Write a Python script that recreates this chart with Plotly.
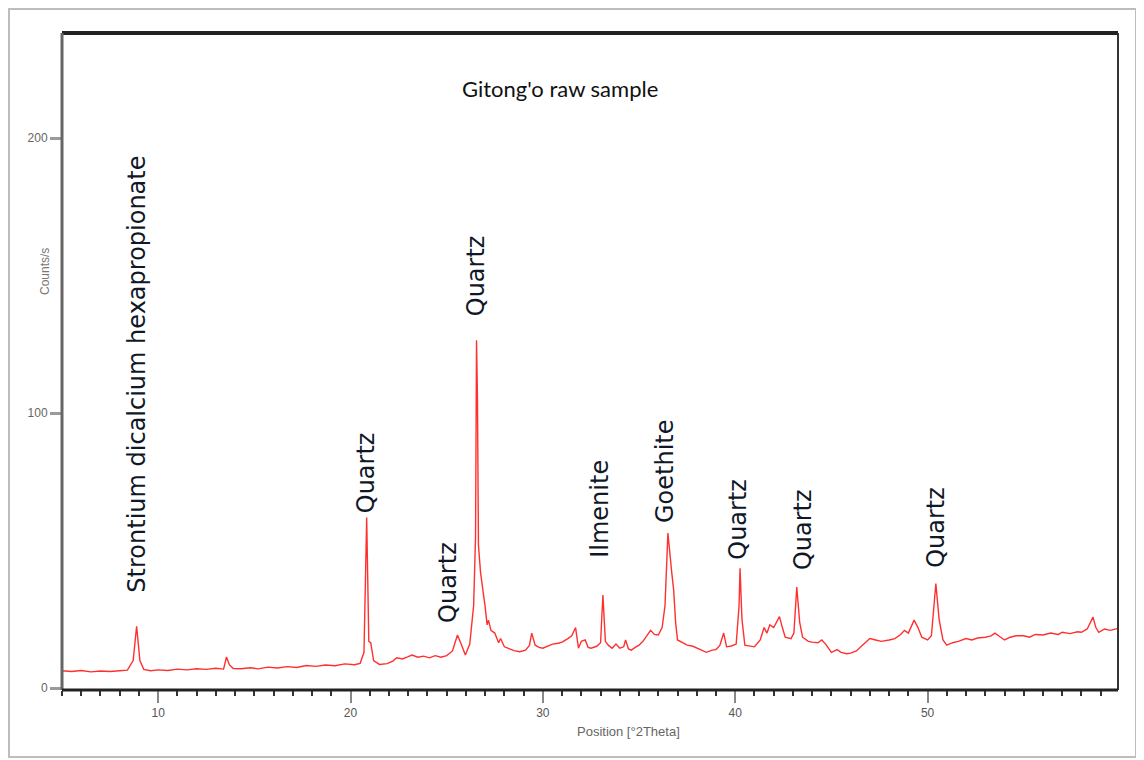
import plotly.graph_objects as go

# XRD pattern: position (°2Theta) and intensity (counts/s)
two_theta = [5.0, 5.5, 6.0, 6.5, 7.0, 7.5, 8.0, 8.4, 8.7, 8.88, 9.05, 9.25, 9.6, 10.0, 10.5, 11.0, 11.5,
             12.0, 12.5, 13.0, 13.4, 13.55, 13.7, 13.9, 14.3, 14.8, 15.2, 15.7, 16.2, 16.7, 17.2, 17.7,
             18.2, 18.7, 19.2, 19.7, 20.2, 20.5, 20.7, 20.84, 20.95, 21.05, 21.2, 21.5, 21.9, 22.2, 22.4,
             22.7, 23.0, 23.2, 23.5, 23.8, 24.1, 24.4, 24.7, 25.0, 25.3, 25.56, 25.75, 25.97, 26.2, 26.4,
             26.5, 26.55, 26.6, 26.65, 26.76, 26.9, 27.0, 27.1, 27.17, 27.3, 27.5, 27.7, 27.8, 28.0, 28.3,
             28.5, 28.8, 29.1, 29.3, 29.42, 29.6, 29.8, 30.0, 30.3, 30.5, 30.8, 31.0, 31.3, 31.5, 31.7,
             31.85, 32.0, 32.2, 32.35, 32.5, 32.8, 33.0, 33.12, 33.25, 33.4, 33.6, 33.8, 34.0, 34.2, 34.3,
             34.45, 34.6, 34.8, 35.0, 35.2, 35.3, 35.5, 35.6, 35.8, 36.0, 36.2, 36.35, 36.5, 36.6, 36.7,
             36.8, 36.9, 37.0, 37.3, 37.5, 37.8, 38.0, 38.3, 38.5, 38.8, 39.0, 39.2, 39.4, 39.55, 39.8,
             40.05, 40.2, 40.25, 40.35, 40.5, 40.8, 41.0, 41.3, 41.5, 41.65, 41.8, 42.0, 42.3, 42.45, 42.6,
             42.9, 43.05, 43.2, 43.35, 43.5, 43.8, 44.0, 44.3, 44.5, 44.7, 45.0, 45.3, 45.5, 45.8, 46.0,
             46.3, 46.6, 47.0, 47.3, 47.6, 48.0, 48.3, 48.6, 48.8, 49.0, 49.3, 49.5, 49.7, 50.0, 50.2,
             50.43, 50.6, 50.8, 51.0, 51.3, 51.6, 52.0, 52.3, 52.6, 53.0, 53.3, 53.5, 53.8, 54.0, 54.3,
             54.6, 55.0, 55.3, 55.6, 56.0, 56.4, 56.8, 57.0, 57.4, 57.8, 58.0, 58.3, 58.6, 58.75, 58.9,
             59.2, 59.5, 59.8, 60.0]
counts = [6.3, 6.0, 6.4, 5.9, 6.2, 6.0, 6.3, 6.5, 10.0, 22.5, 10.0, 6.8, 6.3, 6.6, 6.4, 6.9, 6.6,
          7.0, 6.8, 7.2, 6.9, 11.3, 8.5, 7.1, 7.0, 7.4, 7.0, 7.6, 7.3, 7.8, 7.5, 8.2,
          7.9, 8.4, 8.1, 8.8, 8.5, 9.0, 13.0, 62.0, 17.0, 16.5, 10.0, 8.6, 8.9, 9.8, 11.0,
          10.6, 11.4, 12.0, 11.2, 11.6, 11.0, 11.8, 11.2, 11.8, 13.5, 19.3, 16.0, 12.0, 16.0, 30.0,
          55.0, 126.5, 105.0, 52.0, 42.0, 35.0, 29.5, 23.0, 24.7, 21.0, 20.0, 16.5, 18.0, 15.0, 14.0,
          13.6, 13.2, 13.8, 15.5, 20.0, 15.6, 14.8, 14.5, 15.4, 16.0, 16.3, 16.7, 18.0, 19.0, 22.0,
          14.5, 17.0, 17.5, 14.8, 14.5, 15.2, 16.5, 33.8, 17.0, 15.6, 14.5, 16.0, 14.5, 15.0, 17.5,
          14.2, 13.8, 14.8, 15.6, 17.0, 18.0, 20.0, 21.0, 19.5, 19.3, 22.0, 30.0, 56.4, 48.0, 42.0,
          35.6, 24.0, 17.5, 16.5, 15.6, 15.2, 14.5, 13.6, 13.0, 13.8, 14.0, 15.5, 20.0, 15.0, 15.3,
          16.0, 30.0, 43.6, 25.0, 15.6, 15.2, 15.0, 17.5, 22.0, 20.0, 23.0, 22.0, 26.0, 22.0, 18.5,
          18.0, 20.0, 36.7, 24.0, 18.5, 17.0, 16.7, 16.5, 17.5, 16.0, 13.0, 14.0, 13.0, 12.5, 12.7,
          13.5, 15.5, 18.0, 17.5, 17.0, 17.5, 18.0, 19.5, 21.0, 20.0, 24.7, 22.0, 18.5, 17.5, 19.0,
          38.0, 25.0, 17.5, 15.6, 16.5, 17.0, 18.0, 17.5, 18.2, 18.5, 19.0, 20.0, 18.5, 17.5, 18.5,
          19.0, 19.0, 18.5, 19.5, 19.3, 20.0, 19.5, 20.3, 19.8, 20.5, 20.3, 21.5, 25.8, 22.0, 20.3,
          21.5, 21.0, 21.5, 22.0]

# Phase labels: text, x position (°2Theta), y of label foot (counts/s)
phase_names = ["Strontium dicalcium hexapropionate", "Quartz", "Quartz", "Quartz", "Ilmenite",
               "Goethite", "Quartz", "Quartz", "Quartz"]
phase_x = [8.9, 20.8, 25.1, 26.5, 33.0, 36.35, 40.15, 43.5, 50.4]
phase_y = [33.8, 63.0, 23.0, 134.5, 46.5, 59.3, 45.8, 42.2, 42.9]

title_text = "Gitong'o raw sample"
x_title = "Position [°2Theta]"
y_title = "Counts/s"
x_ticks = [10, 20, 30, 40, 50]
y_ticks = [0, 100, 200]

OFF = 8  # page body margin
W, H = 1136, 752
L, R, T, B = 62 - OFF, 26, 33 - OFF, 70
PW, PH = W - L - R, H - T - B


def px(xs):
    return (xs - OFF - L) / PW


def py(ys):
    return (H - B - (ys - OFF)) / PH


fig = go.Figure()
fig.add_trace(go.Scatter(x=two_theta, y=counts, mode="lines",
                         line=dict(color="#ff3030", width=1.4), hoverinfo="skip",
                         showlegend=False))

annotations = []
for name, xv, yv in zip(phase_names, phase_x, phase_y):
    annotations.append(dict(x=xv, y=yv, xref="x", yref="y", text=name, textangle=-90,
                            showarrow=False, xanchor="center", yanchor="bottom",
                            font=dict(family="DejaVu Sans", size=24, color="#101828")))

annotations.append(dict(x=px(560), y=py(88), xref="paper", yref="paper", text=title_text,
                        showarrow=False, xanchor="center", yanchor="middle",
                        font=dict(family="Lato", size=22, color="#111111")))
annotations.append(dict(x=px(628), y=py(731), xref="paper", yref="paper", text=x_title,
                        showarrow=False, xanchor="center", yanchor="middle",
                        font=dict(family="Liberation Sans Narrow, Liberation Sans", size=13,
                                  color="#666666")))
annotations.append(dict(x=px(45), y=py(272), xref="paper", yref="paper", text=y_title,
                        textangle=-90, showarrow=False, xanchor="center", yanchor="middle",
                        font=dict(family="Liberation Sans Narrow, Liberation Sans", size=12,
                                  color="#777777")))

shapes = [
    # outer gray frame
    dict(type="rect", xref="paper", yref="paper", x0=px(9), x1=px(1136), y0=py(757), y1=py(9),
         line=dict(color="#bdbdbd", width=2), layer="below"),
    # plot frame
    dict(type="line", xref="paper", yref="paper", x0=0, x1=1, y0=1, y1=1,
         line=dict(color="#222222", width=4)),
    dict(type="line", xref="paper", yref="paper", x0=1, x1=1, y0=0, y1=1,
         line=dict(color="#333333", width=2)),
    dict(type="line", xref="paper", yref="paper", x0=0, x1=0, y0=0, y1=1,
         line=dict(color="#666666", width=3)),
    dict(type="line", xref="paper", yref="paper", x0=0, x1=1, y0=0, y1=0,
         line=dict(color="#222222", width=3)),
]

fig.update_layout(
    width=W, height=H,
    margin=dict(l=L, r=R, t=T, b=B, pad=0),
    paper_bgcolor="white", plot_bgcolor="white",
    showlegend=False,
    annotations=annotations,
    shapes=shapes,
    xaxis=dict(range=[5, 59.9], tickmode="array", tickvals=x_ticks,
               ticktext=[str(v) for v in x_ticks],
               ticks="outside", ticklen=12, tickwidth=2, tickcolor="#888888",
               minor=dict(dtick=1, tick0=5, ticks="outside", ticklen=5, tickwidth=2,
                          tickcolor="#333333", showgrid=False),
               showgrid=False, zeroline=False, showline=False,
               tickfont=dict(family="Liberation Sans Narrow, Liberation Sans", size=12,
                             color="#555555")),
    yaxis=dict(range=[-0.7, 238.2], tickmode="array", tickvals=y_ticks,
               ticktext=[str(v) for v in y_ticks],
               ticks="outside", ticklen=11, tickwidth=3, tickcolor="#9a9a9a",
               showgrid=False, zeroline=False, showline=False,
               tickfont=dict(family="Liberation Sans Narrow, Liberation Sans", size=12,
                             color="#666666")),
)

fig.write_html("out.html")
